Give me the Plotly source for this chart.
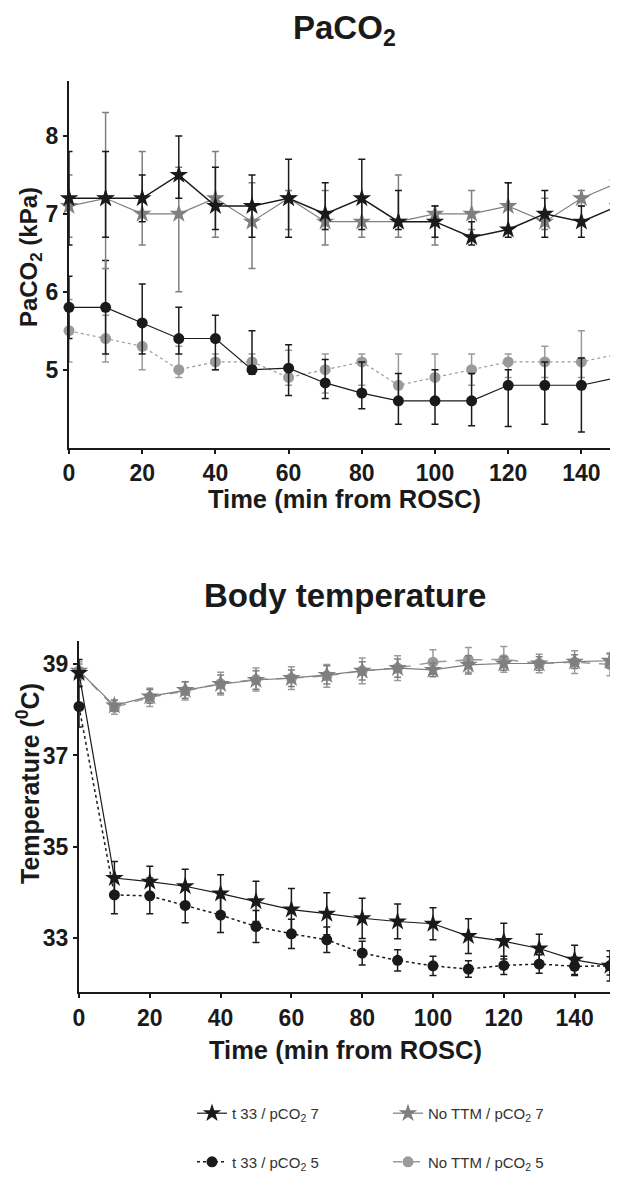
import plotly.graph_objects as go

# ---------------- data ----------------
time = [0, 10, 20, 30, 40, 50, 60, 70, 80, 90, 100, 110, 120, 130, 140, 150]

# PaCO2 (kPa)
pa_t33_7 = [7.2, 7.2, 7.2, 7.5, 7.1, 7.1, 7.2, 7.0, 7.2, 6.9, 6.9, 6.7, 6.8, 7.0, 6.9, 7.1]
pa_t33_7_up = [0.6, 0.6, 0.3, 0.5, 0.5, 0.4, 0.5, 0.4, 0.5, 0.4, 0.2, 0.2, 0.6, 0.3, 0.2, 0.3]
pa_t33_7_dn = [0.6, 0.5, 0.3, 0.3, 0.3, 0.4, 0.5, 0.2, 0.4, 0.1, 0.2, 0.1, 0.1, 0.3, 0.2, 0.3]

pa_no_7 = [7.1, 7.2, 7.0, 7.0, 7.2, 6.9, 7.2, 6.9, 6.9, 6.9, 7.0, 7.0, 7.1, 6.9, 7.2, 7.4]
pa_no_7_up = [0.4, 1.1, 0.8, 0.6, 0.6, 0.5, 0.1, 0.4, 0.3, 0.6, 0.1, 0.3, 0.3, 0.3, 0.1, 0.1]
pa_no_7_dn = [0.4, 0.9, 0.4, 1.0, 0.5, 0.6, 0.4, 0.3, 0.2, 0.2, 0.4, 0.2, 0.3, 0.1, 0.1, 0.1]

pa_t33_5 = [5.8, 5.8, 5.6, 5.4, 5.4, 5.0, 5.02, 4.83, 4.7, 4.6, 4.6, 4.6, 4.8, 4.8, 4.8, 4.9]
pa_t33_5_up = [0.4, 0.6, 0.5, 0.4, 0.3, 0.5, 0.3, 0.3, 0.4, 0.35, 0.4, 0.35, 0.2, 0.3, 0.35, 0.2]
pa_t33_5_dn = [0.4, 0.6, 0.4, 0.2, 0.4, 0.06, 0.35, 0.2, 0.2, 0.3, 0.3, 0.32, 0.53, 0.5, 0.6, 0.2]

pa_no_5 = [5.5, 5.4, 5.3, 5.0, 5.1, 5.1, 4.9, 5.0, 5.1, 4.8, 4.9, 5.0, 5.1, 5.1, 5.1, 5.2]
pa_no_5_up = [0.4, 0.3, 0.3, 0.3, 0.1, 0.1, 0.35, 0.2, 0.1, 0.4, 0.3, 0.2, 0.1, 0.2, 0.4, 0.3]
pa_no_5_dn = [0.4, 0.3, 0.3, 0.1, 0.1, 0.1, 0.1, 0.3, 0.3, 0.2, 0.3, 0.2, 0.2, 0.2, 0.2, 0.3]

# Body temperature (C)
t_t33_7 = [38.8, 34.32, 34.24, 34.14, 33.98, 33.81, 33.63, 33.54, 33.44, 33.37, 33.32, 33.05, 32.94, 32.78, 32.53, 32.40]
t_t33_7_err = [0.3, 0.36, 0.34, 0.37, 0.41, 0.44, 0.46, 0.46, 0.44, 0.38, 0.35, 0.38, 0.39, 0.31, 0.32, 0.33]

t_t33_5 = [38.07, 33.95, 33.93, 33.72, 33.51, 33.26, 33.10, 32.97, 32.68, 32.52, 32.40, 32.33, 32.41, 32.44, 32.39, 32.40]
t_t33_5_err = [0.45, 0.41, 0.39, 0.38, 0.38, 0.35, 0.32, 0.28, 0.26, 0.23, 0.21, 0.18, 0.2, 0.2, 0.2, 0.2]

t_no_7 = [38.85, 38.09, 38.29, 38.43, 38.56, 38.65, 38.69, 38.76, 38.85, 38.91, 38.87, 38.98, 39.01, 39.01, 39.05, 39.07]
t_no_7_err = [0.15, 0.12, 0.15, 0.18, 0.2, 0.2, 0.18, 0.2, 0.2, 0.2, 0.15, 0.2, 0.15, 0.15, 0.15, 0.15]

t_no_5 = [38.85, 38.05, 38.27, 38.41, 38.57, 38.66, 38.69, 38.74, 38.85, 38.91, 39.04, 39.09, 39.10, 39.01, 39.04, 38.99]
t_no_5_err = [0.2, 0.15, 0.2, 0.2, 0.25, 0.25, 0.25, 0.25, 0.28, 0.27, 0.27, 0.27, 0.28, 0.2, 0.25, 0.25]

names = ["t 33 / pCO<sub>2</sub> 7", "No TTM / pCO<sub>2</sub> 7",
         "t 33 / pCO<sub>2</sub> 5", "No TTM / pCO<sub>2</sub> 5"]

x_ticks = [0, 20, 40, 60, 80, 100, 120, 140]
pa_ticks = [5, 6, 7, 8]
t_ticks = [33, 35, 37, 39]

# ---------------- styles ----------------
BLACK = "#1a1a1a"
GRAY_S = "#7f7f7f"
GRAY_C = "#9a9a9a"
FONT = "Liberation Sans, Arial, sans-serif"

# the page body has an 8px margin; the figure fills the rest of the window
OFF = 8
W, H = 618 - OFF, 1179 - OFF

fig = go.Figure()


def add(x, y, up, dn, xa, ya, color, symbol, size, dash, lw, name=None, legend=None):
    fig.add_trace(go.Scatter(
        x=x, y=y, xaxis=xa, yaxis=ya, mode="lines+markers",
        name=name if name else "", showlegend=legend is not None,
        legend=legend if legend else "legend",
        line=dict(color=color, width=lw, dash=dash),
        marker=dict(symbol=symbol, size=size, color=color, line=dict(width=0)),
        error_y=dict(type="data", symmetric=False, array=up, arrayminus=dn,
                     color=color, thickness=1.5, width=3.5),
        cliponaxis=False,
    ))


# top chart (PaCO2)
add(time, pa_no_5, pa_no_5_up, pa_no_5_dn, "x", "y", GRAY_C, "circle", 11, "dot", 1.2)
add(time, pa_t33_5, pa_t33_5_up, pa_t33_5_dn, "x", "y", BLACK, "circle", 11, "solid", 1.2)
add(time, pa_no_7, pa_no_7_up, pa_no_7_dn, "x", "y", GRAY_S, "star", 14, "solid", 1.2)
add(time, pa_t33_7, pa_t33_7_up, pa_t33_7_dn, "x", "y", BLACK, "star", 14, "solid", 1.5)

# bottom chart (temperature)
add(time, t_no_5, t_no_5_err, t_no_5_err, "x2", "y2", GRAY_C, "circle", 11, "dash", 1.5, names[3], "legend4")
add(time, t_no_7, t_no_7_err, t_no_7_err, "x2", "y2", GRAY_S, "star", 14, "solid", 1.2, names[1], "legend2")
add(time, t_t33_5, t_t33_5_err, t_t33_5_err, "x2", "y2", BLACK, "circle", 11, "dot", 1.5, names[2], "legend3")
add(time, t_t33_7, t_t33_7_err, t_t33_7_err, "x2", "y2", BLACK, "star", 14, "solid", 1.2, names[0], "legend")


def px_x(p):
    return (p - OFF) / W


def px_y(p):
    return 1 - (p - OFF) / H


axis_common = dict(
    showgrid=False, zeroline=False, showline=True, linecolor=BLACK, linewidth=2,
    ticks="outside", ticklen=4, tickwidth=2, tickcolor=BLACK, automargin=False,
    tickfont=dict(family=FONT, size=23, color=BLACK, weight="bold"),
)

fig.update_layout(
    width=W, height=H, margin=dict(l=0, r=0, t=0, b=0),
    paper_bgcolor="white", plot_bgcolor="white",
    font=dict(family=FONT, color=BLACK),
    xaxis=dict(domain=[px_x(69), 1.0], range=[0, 150], tickvals=x_ticks,
               anchor="y", **axis_common),
    yaxis=dict(domain=[px_y(451), px_y(82)], range=[4, 8.7], tickvals=pa_ticks,
               anchor="x", **axis_common),
    xaxis2=dict(domain=[px_x(79), px_x(610)], range=[0, 150], tickvals=x_ticks,
                anchor="y2", **axis_common),
    yaxis2=dict(domain=[px_y(1000), px_y(646)], range=[31.82, 39.5], tickvals=t_ticks,
                anchor="x2", **axis_common),
)

leg_font = dict(family=FONT, size=15, color="#333333")
legend_pos = {
    "legend": (192, 1122),
    "legend2": (388, 1122),
    "legend3": (192, 1171),
    "legend4": (388, 1171),
}
for key, (lx, ly) in legend_pos.items():
    fig.update_layout({key: dict(x=px_x(lx), y=px_y(ly), xanchor="left", yanchor="middle",
                                 font=leg_font, bgcolor="rgba(0,0,0,0)",
                                 borderwidth=0, itemsizing="trace")})

title_font = dict(family=FONT, color=BLACK, weight="bold")
annots = [
    dict(text="PaCO<sub>2</sub>", x=px_x(344), y=px_y(30), size=33),
    dict(text="Body temperature", x=px_x(345), y=px_y(600), size=33),
    dict(text="Time (min from ROSC)", x=px_x(344), y=px_y(503), size=25.5),
    dict(text="Time (min from ROSC)", x=px_x(345), y=px_y(1058), size=25.5),
]
for a in annots:
    fig.add_annotation(text=a["text"], x=a["x"], y=a["y"], xref="paper", yref="paper",
                       xanchor="center", yanchor="middle", showarrow=False,
                       font=dict(size=a["size"], **title_font))

fig.add_annotation(text="PaCO<sub>2</sub> (kPa)", x=px_x(30), y=px_y(259), xref="paper", yref="paper",
                   textangle=-90, xanchor="center", yanchor="middle", showarrow=False,
                   font=dict(size=24, **title_font))
fig.add_annotation(text="Temperature (<sup>0</sup>C)", x=px_x(28), y=px_y(790), xref="paper", yref="paper",
                   textangle=-90, xanchor="center", yanchor="middle", showarrow=False,
                   font=dict(size=25, **title_font))

fig.write_html("out.html")
